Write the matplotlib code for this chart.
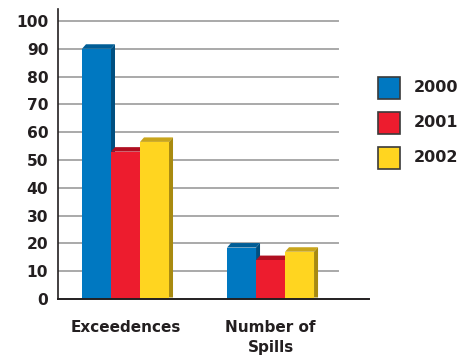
import matplotlib
matplotlib.use("Agg")
import matplotlib.pyplot as plt
from matplotlib.patches import Polygon, Rectangle
import numpy as np

categories = ["Exceedences", "Number of\nSpills"]
years = ["2000", "2001", "2002"]
values_2000 = [90, 18.5]
values_2001 = [53, 14]
values_2002 = [56.5, 17]
yticks = [0, 10, 20, 30, 40, 50, 60, 70, 80, 90, 100]

series = [values_2000, values_2001, values_2002]
face_colors = ["#0078c1", "#ed1c2e", "#ffd520"]
top_colors = ["#005d96", "#b00f20", "#c9a51c"]
side_colors = ["#004f80", "#9a0c1a", "#a88a10"]
text_color = "#231f20"

fig = plt.figure(figsize=(4.63, 3.58), dpi=100)
ax = fig.add_axes([58/463, 1-299/358, (369-58)/463, (299-9)/358])
ax.set_xlim(-0.4655, 1.679)
ax.set_ylim(0, 104.3)

for y in yticks[1:]:
    ax.axhline(y, xmin=0, xmax=0.9003, color="#a9a9a9", lw=1.4, zorder=0)

x = np.arange(len(categories))
w = 0.2
dx, dy = 4, 4.5  # depth in pixels
fig.canvas.draw()
for i, vals in enumerate(series):
    xs = x + (i - 1) * w
    bars = ax.bar(xs, vals, width=w, color=face_colors[i], zorder=3 + i * 0.1, linewidth=0)
    for b in bars:
        x0, y0 = b.get_x(), 0
        x1, y1 = b.get_x() + b.get_width(), b.get_height()
        (px0, py0) = ax.transData.transform((x0, y0))
        (px1, py1) = ax.transData.transform((x1, y1))
        inv = ax.transData.inverted()
        top = [(px0, py1), (px1, py1), (px1 + dx, py1 + dy), (px0 + dx, py1 + dy)]
        side = [(px1, py0 + 1.5), (px1, py1), (px1 + dx, py1 + dy), (px1 + dx, py0 + 1.5)]
        ax.add_patch(Polygon(inv.transform(top), closed=True, facecolor=top_colors[i],
                             edgecolor="none", zorder=2.9 + i * 0.1))
        ax.add_patch(Polygon(inv.transform(side), closed=True, facecolor=side_colors[i],
                             edgecolor="none", zorder=2.9 + i * 0.1))

for s in ["top", "right"]:
    ax.spines[s].set_visible(False)
ax.spines["left"].set_color(text_color)
ax.spines["bottom"].set_color(text_color)
ax.spines["left"].set_linewidth(1.2)
ax.spines["bottom"].set_linewidth(1.4)
ax.spines["bottom"].set_zorder(5)

ax.set_yticks(yticks)
ax.set_yticklabels([str(t) for t in yticks], fontsize=11.2, fontweight="bold", color=text_color)
ax.tick_params(axis="y", length=0, pad=7)
ax.set_xticks(x)
ax.set_xticklabels(categories, fontsize=11, fontweight="bold", color=text_color, linespacing=1.45)
ax.tick_params(axis="x", length=0, pad=15)

# legend
for i, yr in enumerate(years):
    yc = 1 - (88 + 35 * i) / 358
    fig.add_artist(Rectangle((378/463, yc - 11/358), 22/463, 22/358, transform=fig.transFigure,
                             facecolor=face_colors[i], edgecolor="#3a3a3a", lw=1.2))
    fig.text(414/463, yc, yr, fontsize=11.5, fontweight="bold", color=text_color,
             va="center", ha="left")

fig.savefig("out.png", dpi=100)
